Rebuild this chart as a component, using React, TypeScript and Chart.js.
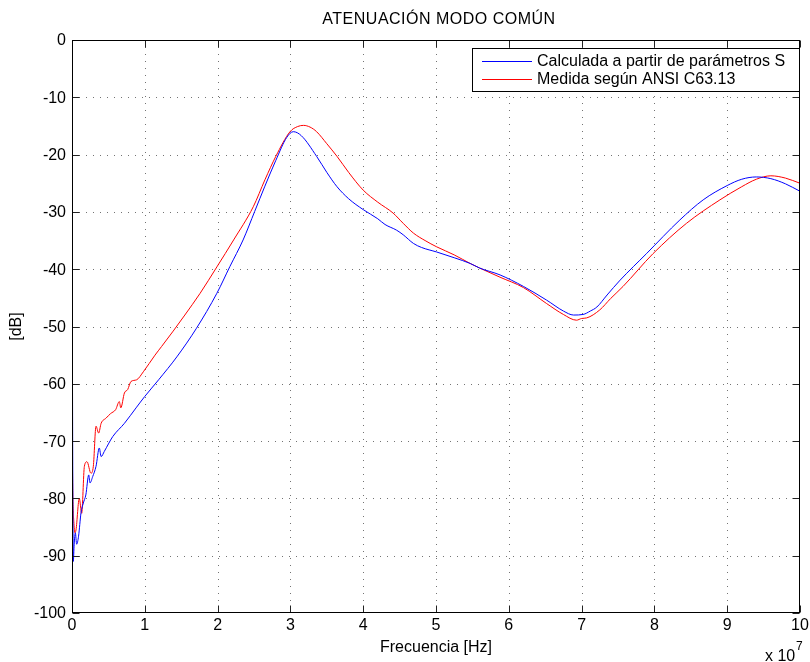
import React, { useEffect, useRef } from "react";
import { Chart, registerables } from "chart.js";

Chart.register(...registerables);

// Frequency in units of 1e7 Hz, attenuation in dB
const calcX = [0, 0.005, 0.012, 0.018, 0.03, 0.046, 0.064, 0.09, 0.124, 0.156, 0.19, 0.23, 0.247, 0.284, 0.33, 0.375, 0.4, 0.444, 0.5, 0.56, 0.72, 0.88, 1.0, 1.19, 1.44, 1.71, 1.99, 2.17, 2.35, 2.51, 2.65, 2.8, 2.95, 3.04, 3.15, 3.36, 3.5, 3.64, 3.8, 4.0, 4.2, 4.3, 4.46, 4.55, 4.69, 4.8, 5.01, 5.25, 5.47, 5.6, 5.88, 6.2, 6.52, 6.75, 6.89, 7.02, 7.12, 7.21, 7.35, 7.53, 7.89, 8.35, 8.67, 9.0, 9.2, 9.4, 9.6, 9.8, 10];
const calcY = [-13.6, -50, -80, -91, -88, -86, -88, -86.6, -82.5, -80.8, -79.4, -75.9, -77.3, -76.2, -74.4, -71.2, -72.7, -71.8, -70.5, -69.2, -66.9, -64.2, -62.2, -59.3, -55.3, -50.3, -44.2, -39.5, -34.9, -29.9, -25.5, -21, -17, -16, -16.7, -20.3, -23.1, -25.6, -27.7, -29.6, -31.2, -32.2, -33.2, -34.0, -35.5, -36.2, -37, -38, -39, -39.8, -41, -43, -45.4, -47.3, -48, -47.9, -47.3, -46.6, -44.5, -41.9, -37.3, -31.4, -27.9, -25.4, -24.3, -23.9, -24.2, -25.1, -26.4];

const measX = [0, 0.005, 0.012, 0.025, 0.04, 0.055, 0.1, 0.133, 0.17, 0.206, 0.26, 0.293, 0.33, 0.366, 0.4, 0.467, 0.53, 0.6, 0.65, 0.67, 0.72, 0.765, 0.81, 0.888, 0.98, 1.14, 1.23, 1.39, 1.55, 1.76, 1.99, 2.22, 2.49, 2.65, 2.8, 2.995, 3.1, 3.18, 3.27, 3.36, 3.5, 3.64, 3.8, 4.0, 4.2, 4.41, 4.55, 4.69, 4.85, 5.01, 5.25, 5.47, 5.6, 5.88, 6.2, 6.52, 6.75, 6.93, 7.0, 7.07, 7.25, 7.4, 7.57, 7.98, 8.44, 8.9, 9.2, 9.4, 9.6, 9.8, 10];
const measY = [-59.5, -72, -80, -84, -86, -85.5, -80, -82.6, -74.4, -73.6, -75.6, -74.4, -67.4, -68.6, -66.9, -66, -65.2, -64.5, -63.1, -64.2, -61.6, -61, -59.6, -59.3, -57.9, -55.0, -53.5, -50.8, -48.0, -44.2, -39.6, -34.9, -29.1, -24.4, -20.3, -16, -15.1, -14.9, -15.2, -16, -18.1, -20.3, -23.1, -26.2, -28.3, -30.2, -32, -33.7, -35, -36.1, -37.5, -39, -39.8, -41.4, -43.2, -46, -47.9, -48.9, -48.6, -48.5, -47.1, -45.1, -43, -37.3, -32, -27.9, -25.6, -24.3, -23.7, -24.1, -25];

const xTicks = [0, 1, 2, 3, 4, 5, 6, 7, 8, 9, 10];
const yTicks = [0, -10, -20, -30, -40, -50, -60, -70, -80, -90, -100];

const chartTitle = "ATENUACIÓN MODO COMÚN";
const xTitle = "Frecuencia [Hz]";
const yTitle = "[dB]";
const seriesNames = ["Calculada a partir de parámetros S", "Medida según ANSI C63.13"];
const seriesColors = ["#0000ff", "#ff0000"];

const FONT = '16px "Liberation Sans", Arial, sans-serif';

const overlay = {
  id: "overlay",
  beforeDatasetsDraw(chart: any) {
    const ctx = chart.ctx;
    const xs = chart.scales.x;
    const ys = chart.scales.y;
    const a = chart.chartArea;
    ctx.save();
    ctx.strokeStyle = "rgba(0,0,0,0.55)";
    ctx.lineWidth = 1;
    ctx.setLineDash([1, 6]);
    xTicks.forEach((t) => {
      if (t === xTicks[0] || t === xTicks[xTicks.length - 1]) return;
      const px = Math.round(xs.getPixelForValue(t)) + 0.5;
      ctx.beginPath();
      ctx.moveTo(px, a.top);
      ctx.lineTo(px, a.bottom);
      ctx.stroke();
    });
    yTicks.forEach((t) => {
      if (t === yTicks[0] || t === yTicks[yTicks.length - 1]) return;
      const py = Math.round(ys.getPixelForValue(t)) + 0.5;
      ctx.beginPath();
      ctx.moveTo(a.left, py);
      ctx.lineTo(a.right, py);
      ctx.stroke();
    });
    ctx.restore();
  },
  afterDatasetsDraw(chart: any) {
    const ctx = chart.ctx;
    const xs = chart.scales.x;
    const ys = chart.scales.y;
    const a = chart.chartArea;
    const L = Math.round(a.left) + 0.5;
    const R = Math.round(a.right) - 0.5;
    const T = Math.round(a.top) + 0.5;
    const B = Math.round(a.bottom) - 0.5;
    ctx.save();
    ctx.setLineDash([]);
    // ticks (inward, all four sides)
    ctx.strokeStyle = "#222";
    ctx.lineWidth = 1;
    const tl = 7;
    xTicks.forEach((t) => {
      const px = Math.round(xs.getPixelForValue(t)) + 0.5;
      ctx.beginPath();
      ctx.moveTo(px, B);
      ctx.lineTo(px, B - tl);
      ctx.moveTo(px, T);
      ctx.lineTo(px, T + tl);
      ctx.stroke();
    });
    yTicks.forEach((t) => {
      const py = Math.round(ys.getPixelForValue(t)) + 0.5;
      ctx.beginPath();
      ctx.moveTo(L, py);
      ctx.lineTo(L + tl, py);
      ctx.moveTo(R, py);
      ctx.lineTo(R - tl, py);
      ctx.stroke();
    });
    // box
    ctx.strokeStyle = "#000";
    ctx.strokeRect(L, T, R - L, B - T);

    // tick labels
    ctx.fillStyle = "#000";
    ctx.font = FONT;
    ctx.textAlign = "center";
    ctx.textBaseline = "middle";
    xTicks.forEach((t) => {
      ctx.fillText(String(t), xs.getPixelForValue(t), a.bottom + 13);
    });
    ctx.textAlign = "right";
    yTicks.forEach((t) => {
      ctx.fillText(String(t), a.left - 6, ys.getPixelForValue(t) + 1);
    });

    // title
    ctx.textAlign = "center";
    ctx.save();
    try {
      (ctx as any).letterSpacing = "0.5px";
    } catch (e) {}
    ctx.fillText(chartTitle, (a.left + a.right) / 2 + 3, 20);
    ctx.restore();
    // x title
    ctx.fillText(xTitle, (a.left + a.right) / 2, 648);
    // exponent
    ctx.textAlign = "left";
    ctx.fillText("x 10", 765, 657);
    ctx.font = '12px "Liberation Sans", Arial, sans-serif';
    ctx.fillText("7", 796, 647);
    // y title
    ctx.font = FONT;
    ctx.save();
    ctx.translate(17, (a.top + a.bottom) / 2);
    ctx.rotate(-Math.PI / 2);
    ctx.textAlign = "center";
    ctx.fillText(yTitle, 0, 0);
    ctx.restore();

    // legend
    const bx = 472.5, by = 48.5, bw = 327, bh = 43;
    ctx.fillStyle = "#fff";
    ctx.fillRect(bx, by, bw, bh);
    ctx.strokeStyle = "#000";
    ctx.strokeRect(bx, by, bw, bh);
    const rows = [61, 79];
    seriesNames.forEach((name, i) => {
      ctx.strokeStyle = seriesColors[i];
      ctx.lineWidth = 1;
      ctx.beginPath();
      ctx.moveTo(482, rows[i] + 0.5);
      ctx.lineTo(532, rows[i] + 0.5);
      ctx.stroke();
      ctx.fillStyle = "#000";
      ctx.textAlign = "left";
      ctx.textBaseline = "middle";
      ctx.fillText(name, 537, rows[i] + 1);
    });
    ctx.restore();
  },
};

export default function App() {
  const ref = useRef<HTMLCanvasElement | null>(null);
  useEffect(() => {
    if (!ref.current) return;
    const chart = new Chart(ref.current, {
      type: "line",
      data: {
        datasets: [
          {
            label: seriesNames[0],
            data: calcX.map((x, i) => ({ x, y: calcY[i] })),
            borderColor: seriesColors[0],
            backgroundColor: seriesColors[0],
            borderWidth: 1,
            pointRadius: 0,
            cubicInterpolationMode: "monotone",
            fill: false,
          },
          {
            label: seriesNames[1],
            data: measX.map((x, i) => ({ x, y: measY[i] })),
            borderColor: seriesColors[1],
            backgroundColor: seriesColors[1],
            borderWidth: 1,
            pointRadius: 0,
            cubicInterpolationMode: "monotone",
            fill: false,
          },
        ],
      },
      options: {
        animation: false,
        responsive: false,
        devicePixelRatio: 1,
        layout: { padding: { top: 40, right: 10, left: 0, bottom: 0 } },
        plugins: {
          legend: { display: false },
          title: { display: false },
          tooltip: { enabled: false },
        },
        scales: {
          x: {
            type: "linear",
            min: 0,
            max: 10,
            grid: { display: false },
            border: { display: false },
            ticks: { display: false, stepSize: 1 },
            afterFit: (s: any) => {
              s.height = 49;
            },
          },
          y: {
            type: "linear",
            min: -100,
            max: 0,
            grid: { display: false },
            border: { display: false },
            ticks: { display: false, stepSize: 10 },
            afterFit: (s: any) => {
              s.width = 72;
            },
          },
        },
      },
      plugins: [overlay],
    });
    return () => chart.destroy();
  }, []);
  return (
    <div style={{ position: "fixed", left: 0, top: 0, width: 810, height: 662, background: "#fff" }}>
      <canvas ref={ref} width={810} height={662} style={{ width: 810, height: 662 }} />
    </div>
  );
}
